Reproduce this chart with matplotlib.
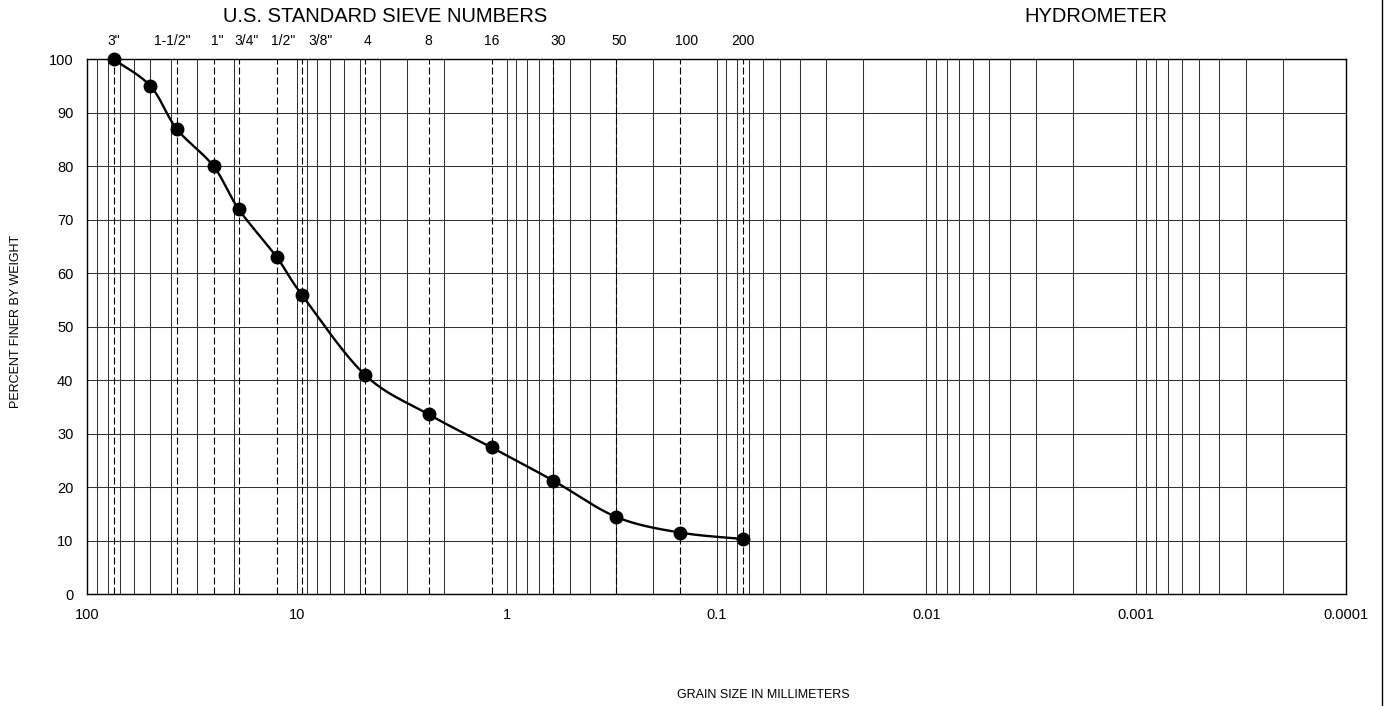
import numpy as np
import matplotlib
matplotlib.use("Agg")
import matplotlib.pyplot as plt
from matplotlib.lines import Line2D
from matplotlib.ticker import FixedLocator, LogLocator, NullFormatter

plt.rcParams["font.family"] = ["Liberation Sans", "DejaVu Sans"]

# grain size (mm) and percent finer
grain_mm = [75, 50, 37.5, 25, 19, 12.5, 9.5, 4.75, 2.36, 1.18, 0.6, 0.3, 0.15, 0.075]
pct_finer = [100, 95, 87, 80, 72, 63, 56, 41, 33.6, 27.4, 21.2, 14.4, 11.5, 10.3]

# sieve openings (mm) marked with dashed lines
sieve_mm = [75, 37.5, 25, 19, 12.5, 9.5, 4.75, 2.36, 1.18, 0.6, 0.3, 0.15, 0.075]
sieve_labels = ['3"', '1-1/2"', '1"', '3/4"', '1/2"', '3/8"',
                '4', '8', '16', '30', '50', '100', '200']
# labels sit a little off their lines in the original (pixels)
label_shift = [0, -4, 4, 8, 6, 19, 3, 0, 0, 5, 3, 7, 0]

x_major = [100, 10, 1, 0.1, 0.01, 0.001, 0.0001]
x_major_labels = ["100", "10", "1", "0.1", "0.01", "0.001", "0.0001"]


def smooth(xs, ys, n=40):
    """Excel-like smoothed line: cubic bezier segments in (log x, y)."""
    px = np.log10(np.asarray(xs, float))
    py = np.asarray(ys, float)
    pts = np.column_stack([px, py])
    ext = np.vstack([pts[0], pts, pts[-1]])
    out = []
    t = np.linspace(0, 1, n)[:, None]
    for i in range(len(pts) - 1):
        p0, p1, p2, p3 = ext[i], ext[i + 1], ext[i + 2], ext[i + 3]
        c1 = p1 + (p2 - p0) / 6
        c2 = p2 - (p3 - p1) / 6
        seg = ((1 - t) ** 3) * p1 + 3 * ((1 - t) ** 2) * t * c1 \
            + 3 * (1 - t) * t ** 2 * c2 + t ** 3 * p2
        out.append(seg if i == 0 else seg[1:])
    out = np.vstack(out)
    return 10 ** out[:, 0], out[:, 1]


W, H = 1385, 706
fig = plt.figure(figsize=(W / 100, H / 100), dpi=100)
left, right, top, bottom = 87.3, 1345.7, 59.3, 594.0
ax = fig.add_axes([left / W, 1 - bottom / H, (right - left) / W, (bottom - top) / H])

ax.set_xscale("log")
ax.set_xlim(100, 0.0001)
ax.set_ylim(0, 100)

ax.xaxis.set_major_locator(FixedLocator(x_major))
ax.set_xticklabels(x_major_labels)
ax.xaxis.set_minor_locator(LogLocator(base=10, subs=np.arange(2, 10), numticks=20))
ax.xaxis.set_minor_formatter(NullFormatter())
ax.set_yticks(np.arange(0, 101, 10))

ax.tick_params(axis="both", which="both", length=0, labelsize=10.5, pad=10)
ax.grid(True, which="both", axis="x", color="#333333", lw=0.75)
ax.grid(True, which="major", axis="y", color="#333333", lw=0.75)
ax.set_axisbelow(True)
for s in ax.spines.values():
    s.set_color("black")
    s.set_linewidth(1)

for xs in sieve_mm:
    ax.plot([xs, xs], [0, 100], color="black", lw=0.8,
            linestyle=(0, (6.3, 2.7)), zorder=1.5)

trans = ax.get_xaxis_transform()
for xs, lab, dx in zip(sieve_mm, sieve_labels, label_shift):
    ax.annotate(lab, xy=(xs, 1.034), xycoords=trans,
                xytext=(dx * 0.72, 0), textcoords="offset points",
                ha="center", va="center", fontsize=10, annotation_clip=False)

sx, sy = smooth(grain_mm, pct_finer)
ax.plot(sx, sy, color="black", lw=1.7, zorder=3, clip_on=False)
ax.plot(grain_mm, pct_finer, "o", color="black", markersize=9, zorder=4,
        clip_on=False)

fig.text(385 / W, 1 - 17 / H, "U.S. STANDARD SIEVE NUMBERS", ha="center",
         va="center", fontsize=14.5)
fig.text(1096 / W, 1 - 17 / H, "HYDROMETER", ha="center", va="center",
         fontsize=14.5)
fig.text(16 / W, 1 - 321 / H, "PERCENT FINER BY WEIGHT", rotation=90,
         ha="center", va="center", fontsize=9)
fig.text(763 / W, 1 - 694.5 / H, "GRAIN SIZE IN MILLIMETERS", ha="center",
         va="center", fontsize=9)

fig.add_artist(Line2D([1382 / W, 1382 / W], [0, 1], color="black", lw=1))

fig.savefig("out.png", dpi=100)
